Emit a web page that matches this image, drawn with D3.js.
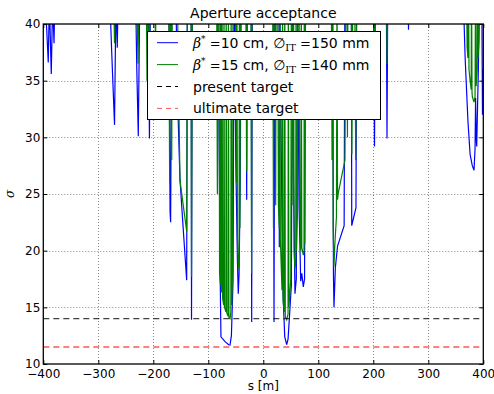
<!DOCTYPE html>
<html>
<head>
<meta charset="utf-8">
<script src="https://cdn.jsdelivr.net/npm/d3@7"></script>
<style>
  body { margin: 0; background: #fff; }
  text { font-family: "DejaVu Sans", sans-serif; }
</style>
</head>
<body>
<div id="chart"></div>
<script>
// tick values
const xTicks = [-400, -300, -200, -100, 0, 100, 200, 300, 400];
const yTicks = [10, 15, 20, 25, 30, 35, 40];

// target lines (sigma)
const presentTarget = 14.0;
const ultimateTarget = 11.5;

// beta* = 10 cm, aperture 150 mm : [s, sigma] (values above 40 run off the top)
const blueSeries = [
  [-399, 45], [-391, 36.6], [-389, 42], [-385.5, 35.6], [-383, 42], [-380.5, 38.3], [-378, 45],
  [-281, 45], [-276, 38], [-270.5, 31.1], [-268, 42], [-265.5, 37.9], [-263, 45],
  [-233, 45], [-230, 36], [-227.3, 30.1], [-224, 45],
  [-209.5, 45], [-207, 29.9], [-205, 45],
  [-172, 45], [-169.5, 23.4], [-168.5, 22.5], [-166, 45],
  [-159, 42], [-155, 32], [-151.5, 26.3], [-145, 21.5], [-139.3, 17.4], [-138, 45],
  [-131.2, 45], [-130.5, 13.9], [-129, 45],
  [-83, 45], [-78, 16.1], [-77, 12.4], [-70, 12.0], [-63, 11.7], [-60.5, 11.67], [-58, 12.5], [-55, 17.4], [-53, 45],
  [-50, 28], [-47, 19], [-45.5, 16.2], [-44, 18], [-42, 26], [-40, 45],
  [-31.5, 45], [-30.2, 24.5], [-29, 45],
  [-22, 45], [-21.1, 13.7], [-20, 45],
  [18, 45], [19.5, 13.7], [21, 45],
  [28.5, 45], [29.1, 20.3], [30, 42], [33, 27], [36, 16], [39, 12.4], [42.5, 11.7], [45, 12.2], [48, 14.5], [51, 17], [53, 42],
  [55, 26], [57.6, 16.2], [60, 17.5], [62, 42], [65, 24], [68, 17.3], [70, 18], [72.7, 16.8], [75, 17.5], [77, 45],
  [126, 45], [127.5, 18], [128.5, 15.0], [131, 18.5], [135, 20.4], [147, 22.2], [148.5, 45],
  [160, 45], [160.8, 22.2], [168.5, 23.8], [170, 45],
  [200, 45], [202.2, 29.2], [204, 45],
  [223.5, 45], [224.9, 29.9], [226.5, 45],
  [263, 45], [264, 39.5], [265, 45],
  [362, 45], [367, 37], [372, 31.5], [376, 28.5], [380, 27.5], [383.1, 27.1], [385, 29], [386, 33.5], [387, 30], [388, 29.2], [391, 36], [394, 45],
  [397, 45], [398.5, 32], [400, 36]
];

// beta* = 15 cm, aperture 140 mm : [s, sigma]
const greenSeries = [
  [-273, 45], [-270.5, 38.3], [-268.5, 45],
  [-231, 45], [-227.8, 36.5], [-225.5, 45],
  [-213, 45], [-211.5, 35], [-210, 45], [-209, 45], [-207.5, 33], [-206, 45],
  [-197, 45], [-196, 36], [-195, 45],
  [-172, 45], [-170.3, 26], [-169, 45], [-167.5, 45], [-166.5, 28], [-165.5, 45],
  [-157, 45], [-151.5, 26.2], [-139.3, 21.7], [-138, 45],
  [-131.5, 45], [-130.5, 17.7], [-129, 45],
  [-85, 45], [-83.5, 25], [-82.5, 45], [-80.5, 45], [-79.5, 18], [-78, 17], [-77.5, 45], [-76, 16.3], [-75, 45],
  [-74, 15.8], [-72, 15.2], [-71.5, 45], [-70.5, 15], [-68, 14.6], [-67.5, 45], [-66.5, 14.5], [-64, 14.2], [-63.5, 45],
  [-62.5, 14.1], [-60.5, 14.0], [-59, 14.6], [-58.5, 45], [-57.5, 15.2], [-56, 18], [-55, 45],
  [-51, 45], [-49, 26], [-48, 45], [-47, 21], [-45.5, 18.4], [-44, 19.5], [-43.5, 45], [-42.5, 22], [-41, 45],
  [-31, 45], [-30.2, 27], [-29, 45],
  [-22.5, 45], [-21.3, 18], [-20.5, 45],
  [17, 45], [18.5, 22], [19.5, 45], [21.5, 45], [22.5, 24], [23.5, 45],
  [26, 45], [27.5, 24], [29, 22], [30, 45], [31, 21], [34, 16.5], [35, 45], [36, 15.6], [38, 14.6], [39, 45],
  [40, 14.2], [42.5, 13.9], [45, 14.4], [45.5, 45], [46.5, 15], [48, 16], [50, 17.5], [51, 45],
  [52, 45], [54, 24], [55, 45], [56, 20], [57.6, 18.4], [59, 19], [59.5, 45], [60.5, 20], [62, 23], [63, 45],
  [65, 45], [66, 24], [68, 20], [69, 45], [70, 20.3], [72.7, 19.6], [74, 20], [74.5, 45], [75.5, 20.6], [77, 45],
  [123.5, 45], [125, 28], [126, 45], [127, 22], [128.5, 18.6], [130, 20.5], [133, 23], [134, 45], [135, 24.5],
  [136.4, 25.1], [148.5, 28], [150, 45],
  [152, 45], [153, 30], [154, 45],
  [160, 45], [161, 28.5], [163, 45], [166, 45], [168, 28], [170, 45],
  [200.5, 45], [202, 34], [203.5, 45],
  [224, 45], [225, 36.5], [226, 45],
  [365, 45], [368, 40], [369.5, 45], [370.5, 38], [372, 37], [373, 45], [374, 36], [376, 35], [378, 34.2], [378.5, 45],
  [379.5, 34], [380, 33.6], [383.1, 33.1], [385, 33.6], [386, 45], [387, 34.5], [389, 36], [389.5, 45],
  [390.5, 37], [392, 38.5], [393, 45], [395, 45]
];

// legend labels, split into pieces: t = text, m = math italic, r = math roman, sup / sub
const legendBlue = [["β", "m"], ["*", "sup"], [" =", "r"], ["10 cm, ", "t"], ["∅", "t"], ["IT", "sub"], [" =", "r"], ["150 mm", "t"]];
const legendGreen = [["β", "m"], ["*", "sup"], [" =", "r"], ["15 cm, ", "t"], ["∅", "t"], ["IT", "sub"], [" =", "r"], ["140 mm", "t"]];
const legendPresent = [["present target", "t"]];
const legendUltimate = [["ultimate target", "t"]];

const width = 494, height = 394;
const plot = { left: 43.3, right: 483.3, top: 24, bottom: 364 };

const svg = d3.select("#chart").append("svg")
  .attr("width", width)
  .attr("height", height);

const x = d3.scaleLinear().domain([-400, 400]).range([plot.left, plot.right]);
const y = d3.scaleLinear().domain([10, 40]).range([plot.bottom, plot.top]);

svg.append("defs").append("clipPath").attr("id", "clip")
  .append("rect")
  .attr("x", plot.left).attr("y", plot.top)
  .attr("width", plot.right - plot.left).attr("height", plot.bottom - plot.top);

// dotted grid
const grid = svg.append("g").attr("stroke", "#888").attr("stroke-width", 1).attr("stroke-dasharray", "1,2");
grid.selectAll(".gx").data(xTicks.slice(1, -1)).enter().append("line")
  .attr("x1", d => Math.round(x(d)) + 0.5).attr("x2", d => Math.round(x(d)) + 0.5)
  .attr("y1", plot.top).attr("y2", plot.bottom);
grid.selectAll(".gy").data(yTicks.slice(1, -1)).enter().append("line")
  .attr("x1", plot.left).attr("x2", plot.right)
  .attr("y1", d => Math.round(y(d)) + 0.5).attr("y2", d => Math.round(y(d)) + 0.5);

// aperture curves
const line = d3.line().x(d => x(d[0])).y(d => y(d[1]));
const curves = svg.append("g").attr("clip-path", "url(#clip)");
curves.append("path").datum(blueSeries)
  .attr("fill", "none").attr("stroke", "#0000ff").attr("stroke-width", 1.2)
  .attr("d", line);
curves.append("path").datum(greenSeries)
  .attr("fill", "none").attr("stroke", "#008000").attr("stroke-width", 1.2)
  .attr("d", line);

// target lines
curves.append("line")
  .attr("x1", plot.left).attr("x2", plot.right)
  .attr("y1", y(presentTarget)).attr("y2", y(presentTarget))
  .attr("stroke", "#000").attr("stroke-width", 1.2).attr("stroke-dasharray", "6,4").attr("opacity", 0.75);
curves.append("line")
  .attr("x1", plot.left).attr("x2", plot.right)
  .attr("y1", y(ultimateTarget)).attr("y2", y(ultimateTarget))
  .attr("stroke", "#ff0000").attr("stroke-width", 1).attr("stroke-dasharray", "6,4");

// axes, ticks pointing inward
function styleAxis(g) {
  g.select(".domain").remove();
  g.selectAll(".tick line").attr("stroke", "#000");
  g.selectAll(".tick text").attr("fill", "#000").style("font-size", "12px").style("font-family", "DejaVu Sans");
}
svg.append("g").attr("transform", `translate(0,${plot.bottom})`)
  .call(d3.axisBottom(x).tickValues(xTicks).tickSize(-4).tickPadding(5).tickFormat(d3.format("d")))
  .call(styleAxis);
svg.append("g").attr("transform", `translate(0,${plot.top})`)
  .call(d3.axisTop(x).tickValues(xTicks).tickSize(-4).tickFormat(""))
  .call(styleAxis);
svg.append("g").attr("transform", `translate(${plot.left},0)`)
  .call(d3.axisLeft(y).tickValues(yTicks).tickSize(-4).tickPadding(3))
  .call(styleAxis);
svg.append("g").attr("transform", `translate(${plot.right},0)`)
  .call(d3.axisRight(y).tickValues(yTicks).tickSize(-4).tickFormat(""))
  .call(styleAxis);

// frame
svg.append("rect")
  .attr("x", plot.left).attr("y", plot.top)
  .attr("width", plot.right - plot.left).attr("height", plot.bottom - plot.top)
  .attr("fill", "none").attr("stroke", "#000").attr("stroke-width", 1.3);

// title and axis labels
svg.append("text").attr("x", (plot.left + plot.right) / 2).attr("y", 17.5)
  .attr("text-anchor", "middle").style("font-size", "14px").text("Aperture acceptance");
svg.append("text").attr("x", (plot.left + plot.right) / 2).attr("y", 390)
  .attr("text-anchor", "middle").style("font-size", "12px").text("s [m]");
svg.append("text").attr("transform", "translate(14,194) rotate(-90)")
  .attr("text-anchor", "middle").style("font-size", "12px")
  .style("font-family", "DejaVu Serif").style("font-style", "italic").text("σ");

// legend
const legend = svg.append("g");
legend.append("rect").attr("x", 147.5).attr("y", 31.5).attr("width", 233).attr("height", 88)
  .attr("fill", "#fff").attr("stroke", "#000").attr("stroke-width", 1);

const legendItems = [
  { pieces: legendBlue, color: "#0000ff", dash: null },
  { pieces: legendGreen, color: "#008000", dash: null },
  { pieces: legendPresent, color: "#000", dash: "5,4" },
  { pieces: legendUltimate, color: "#ff5555", dash: "5,4" }
];

legendItems.forEach((item, i) => {
  const cy = 42.7 + i * 21.9;
  legend.append("line").attr("x1", 157).attr("x2", 178).attr("y1", cy).attr("y2", cy)
    .attr("stroke", item.color).attr("stroke-width", 1)
    .attr("stroke-dasharray", item.dash);
  const t = legend.append("text").attr("x", 193).attr("y", cy + 5).style("font-size", "14px");
  let shift = 0;
  item.pieces.forEach(([txt, kind]) => {
    const span = t.append("tspan").text(txt);
    let target = 0;
    if (kind === "m") span.style("font-family", "DejaVu Serif").style("font-style", "italic").style("font-size", "14px");
    if (kind === "r") span.style("font-family", "DejaVu Serif").style("font-size", "13px");
    if (kind === "sup") { span.style("font-family", "DejaVu Serif").style("font-size", "9px"); target = -6; }
    if (kind === "sub") { span.style("font-family", "DejaVu Serif").style("font-size", "10px"); target = 3; }
    span.attr("dy", target - shift);
    shift = target;
  });
});
</script>
</body>
</html>
